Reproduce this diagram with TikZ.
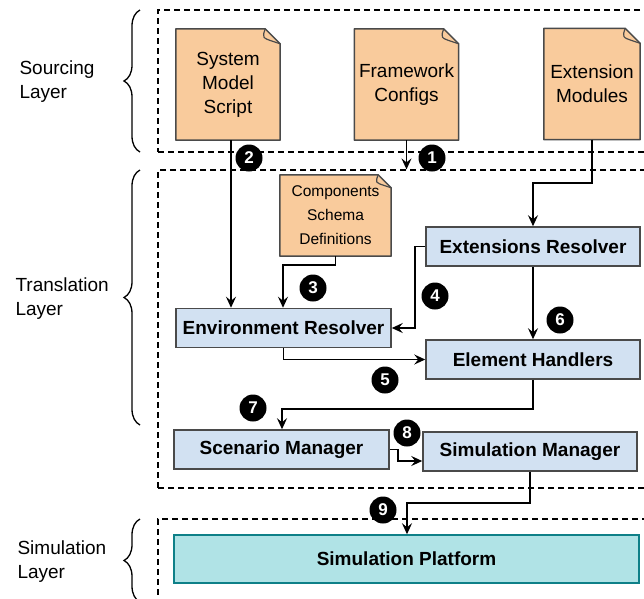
\documentclass[tikz,border=0pt]{standalone}
\usepackage{fontspec}
\setmainfont{Liberation Sans}
\usepackage{xcolor}
\usetikzlibrary{arrows.meta, positioning, decorations.pathreplacing, backgrounds, calc}

\definecolor{docfill}{HTML}{F9CB9C}
\definecolor{boxfill}{HTML}{D2E1F2}
\definecolor{platfill}{HTML}{B0E3E6}
\definecolor{platline}{HTML}{0E8088}
\definecolor{outline}{HTML}{4A4A4A}

% folded corner of a document node: name, fold size
\newcommand{\docfold}[2]{%
  \filldraw[fill=docfill, draw=outline, line width=1.5pt, line join=round]
    (#1.south west) -- (#1.north west) -- ([xshift=-#2]#1.north east)
    -- ([yshift=-#2]#1.north east) -- (#1.south east) -- cycle;
  \draw[outline, line width=1.2pt, line join=round]
    ([xshift=-#2]#1.north east) .. controls ([xshift=-#2-3pt,yshift=-0.6*#2]#1.north east)
    .. ([xshift=-0.45*#2,yshift=-0.85*#2]#1.north east) -- ([yshift=-#2]#1.north east);
}

\begin{document}
\begin{tikzpicture}[x=1pt, y=-1pt,
    doc/.style={rectangle, minimum width=104pt, minimum height=111pt, align=center, inner sep=0pt, font=\fontsize{19}{24}\selectfont},
    smalldoc/.style={rectangle, minimum width=111pt, minimum height=81pt, align=center, inner sep=0pt, font=\fontsize{15.5}{24}\selectfont},
    block/.style={rectangle, draw=outline, line width=1.5pt, fill=boxfill, minimum width=214pt, minimum height=39pt, inner sep=0pt, font=\fontsize{19}{22}\selectfont\bfseries},
    platform/.style={rectangle, draw=platline, line width=1.5pt, fill=platfill, minimum width=465pt, minimum height=48pt, inner sep=0pt, font=\fontsize{19}{22}\selectfont\bfseries},
    layer/.style={rectangle, draw=black, dashed, dash pattern=on 6pt off 4pt, line width=1.2pt},
    layerlabel/.style={anchor=west, align=left, font=\fontsize{19}{24}\selectfont},
    bracket/.style={decorate, decoration={brace, amplitude=16pt}, line width=1.3pt},
    flow/.style={draw, line width=1.5pt, -{Stealth[length=11pt, width=10pt, inset=4pt]}},
    badge/.style={circle, fill=black, text=white, minimum size=27pt, inner sep=0pt, font=\fontsize{17}{17}\selectfont\bfseries}
]
    \useasboundingbox (0,0) rectangle (644,598);
    \clip (0,0) rectangle (644,598);

    % Layers
    \node[layer, minimum width=500pt, minimum height=142pt] (srcl) at (408,81) {};
    \node[layer, minimum width=500pt, minimum height=318pt] (trl) at (408,329) {};
    \node[layer, minimum width=500pt, minimum height=120pt] (siml) at (408,579) {};

    \draw[bracket] (140,152) -- (140,10);
    \draw[bracket] (140,425) -- (140,170);
    \draw[bracket] (140,602) -- (140,519);

    \node[layerlabel] (srclabel) at (16,82) {Sourcing\\Layer};
    \node[layerlabel] (trlabel) at (12,299) {Translation\\Layer};
    \node[layerlabel] (simlabel) at (14,562) {Simulation\\Layer};

    % Documents
    \node[doc] (model) at (228,84.5) {System\\Model\\Script};
    \node[doc] (configs) at (406.5,84.5) {Framework\\Configs};
    \node[doc, minimum width=96pt] (modules) at (592,84) {Extension\\Modules};
    \node[smalldoc] (schema) at (335.5,215.5) {Components\\Schema\\Definitions};

    \begin{scope}[on background layer]
        \docfold{model}{15pt}
        \docfold{configs}{15pt}
        \docfold{modules}{15pt}
        \docfold{schema}{13pt}
    \end{scope}

    % Blocks
    \node[block] (extres) at (533,246.5) {Extensions Resolver};
    \node[block, minimum width=215pt] (envres) at (283.5,328) {Environment Resolver};
    \node[block] (handlers) at (533,359.5) {Element Handlers};
    \node[block, minimum width=215pt] (scenario) at (281.5,449.5) {Scenario Manager};
    \node[block] (simmgr) at (530,451.5) {Simulation Manager};
    \node[platform] (platform) at (406.5,559) {Simulation Platform};

    % Flows
    \draw[flow] (configs.south) -- (configs.south |- trl.north);
    \draw[flow] ([xshift=3pt]model.south) -- ([xshift=3pt]model.south |- envres.north);
    \draw[flow] (schema.south) |- (283,265) -- (283,265 |- envres.north);
    \draw[flow] (extres.west) -| (415,328) -- (envres.east);
    \draw[flow] (envres.south) |- (handlers.west);
    \draw[flow] (extres.south) -- (handlers.north);
    \draw[flow] (handlers.south) |- (282,409) -- (282,409 |- scenario.north);
    \draw[flow] (scenario.east) -| (398,461) -- (398,461 -| simmgr.west);
    \draw[flow] (simmgr.south) |- (407,503) -- (407,503 |- platform.north);
    \draw[flow] (modules.south) |- (533,183) -- (extres.north);

    % Steps
    \node[badge] (s1) at (432,158) {1};
    \node[badge] (s2) at (249,158) {2};
    \node[badge] (s3) at (313,288) {3};
    \node[badge] (s4) at (435,296) {4};
    \node[badge] (s5) at (385,380) {5};
    \node[badge] (s6) at (560,320) {6};
    \node[badge] (s7) at (253,408) {7};
    \node[badge] (s8) at (407,433) {8};
    \node[badge] (s9) at (383,510) {9};
\end{tikzpicture}
\end{document}
